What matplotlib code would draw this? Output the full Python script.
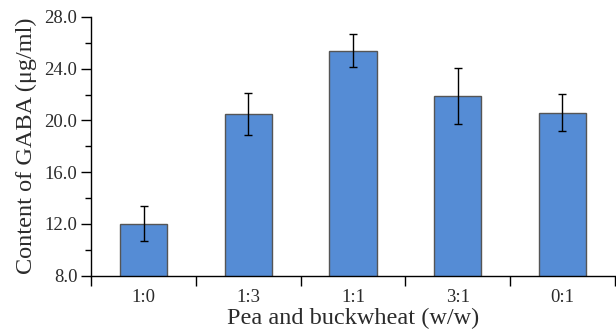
import numpy as np
import matplotlib
matplotlib.use("Agg")
import matplotlib.pyplot as plt
from matplotlib.ticker import MultipleLocator

# Data
ratios = ["1:0", "1:3", "1:1", "3:1", "0:1"]
gaba = [12.0, 20.5, 25.4, 21.9, 20.6]
gaba_err = [1.35, 1.65, 1.25, 2.15, 1.45]

plt.rcParams["font.family"] = ["Liberation Serif", "DejaVu Serif"]
text_color = "#2b2b2b"

fig = plt.figure(figsize=(6.16, 3.32), dpi=100)
ax = fig.add_axes([0.148, 0.170, 0.850, 0.779])

x = np.arange(len(ratios))
ax.bar(x, gaba, width=0.45, color="#558cd5", edgecolor="#555555", linewidth=1.0,
       yerr=gaba_err, error_kw=dict(ecolor="black", elinewidth=1.0, capsize=3, capthick=1.0),
       zorder=2)

ax.set_xlim(-0.5, len(ratios) - 0.5)
ax.set_ylim(8, 28)

ax.yaxis.set_minor_locator(MultipleLocator(2))
ax.set_yticks(np.arange(8, 29, 4))
ax.set_yticklabels(["%.1f" % v for v in np.arange(8, 29, 4)])

# category ticks at the boundaries, labels centred under bars
ax.set_xticks(np.arange(-0.5, len(ratios)), minor=False)
ax.set_xticklabels([])
ax.set_xticks(x, minor=True)
ax.set_xticklabels(ratios, minor=True)
ax.tick_params(axis="x", which="major", direction="out", length=7, width=1, color="black")
ax.tick_params(axis="x", which="minor", length=0, pad=10, labelsize=13.5, labelcolor=text_color)
ax.tick_params(axis="y", which="major", direction="out", length=7, width=1, pad=3,
               labelsize=13.5, labelcolor=text_color)
ax.tick_params(axis="y", which="minor", direction="out", length=4, width=1)

for side in ["top", "right"]:
    ax.spines[side].set_visible(False)
for side in ["left", "bottom"]:
    ax.spines[side].set_linewidth(1.0)
    ax.spines[side].set_color("black")

ax.set_ylabel("Content of GABA (μg/ml)", fontsize=17.5, color=text_color, labelpad=5)
ax.set_xlabel("Pea and buckwheat (w/w)", fontsize=17.5, color=text_color, labelpad=1)

fig.savefig("out.png", dpi=100)
